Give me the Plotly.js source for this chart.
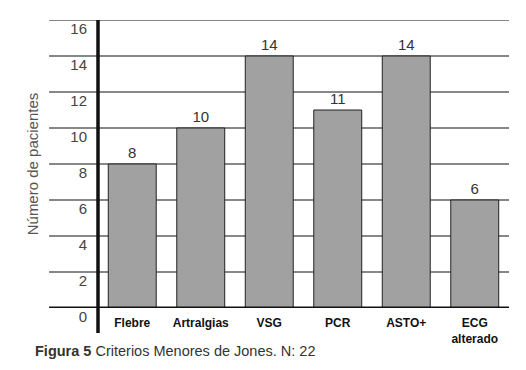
<!DOCTYPE html>
<html><head><meta charset="utf-8">
<script src="https://cdn.plot.ly/plotly-3.0.1.min.js"></script>
<style>html,body{margin:0;padding:0;background:#fff}#c{width:526px;height:370px}</style>
</head><body><div id="c"></div>
<script>
var categories = ['Flebre', 'Artralgias', 'VSG', 'PCR', 'ASTO+', 'ECG<br>alterado'];
var values = [8, 10, 14, 11, 14, 6];
var tickVals = [0, 2, 4, 6, 8, 10, 12, 14, 16];
var tickText = ['0', '2', '4', '6', '8', '10', '12', '14', '16'];
var yTitle = 'Número de pacientes';
var caption = '<b>Figura 5</b> Criterios Menores de Jones. N: 22';

var FONT = 'Liberation Sans, Arial, sans-serif';
var shapes = tickVals.filter(function(v){return v>0;}).map(function(v){
  return {type:'line', xref:'paper', yref:'y', x0:-0.119, x1:1.0, y0:v, y1:v,
          line:{color:'#111', width:1.2}, layer:'below'};
});
shapes.push({type:'line', xref:'paper', yref:'y', x0:-0.119, x1:1.0, y0:0, y1:0, line:{color:'#111', width:3}, layer:'above'});
shapes.push({type:'line', xref:'paper', yref:'paper', x0:0, x1:0, y0:-0.087, y1:1, line:{color:'#111', width:3.5}, layer:'above'});

var trace = {
  type:'bar', x:categories, y:values, width:0.7,
  marker:{color:'#a1a1a1', line:{color:'#222', width:1}},
  text: values.map(String), textposition:'outside', cliponaxis:false,
  textfont:{family:FONT, size:15, color:'#333'}, hoverinfo:'none'
};

var layout = {
  width:526, height:370,
  margin:{l:98, r:17, t:20, b:62},
  paper_bgcolor:'#fff', plot_bgcolor:'rgba(0,0,0,0)',
  showlegend:false, bargap:0.3,
  font:{family:FONT, color:'#333'},
  xaxis:{showgrid:false, zeroline:false, showline:false, ticks:'',
         tickfont:{family:FONT, size:12, color:'#111', weight:'bold'}, ticklabelstandoff:6},
  yaxis:{range:[0,16], tickvals:tickVals, ticktext:tickText, showgrid:false, zeroline:false,
         showline:false, ticks:'', ticklabelshift:9, ticklabelstandoff:10,
         tickfont:{family:FONT, size:15, color:'#444'},
         title:{text:yTitle, font:{family:FONT, size:15, color:'#555'}, standoff:28}},
  shapes:shapes,
  annotations:[{xref:'paper', yref:'paper', x:-0.158, y:-0.15, xanchor:'left', yanchor:'middle',
                text:caption, showarrow:false, font:{family:FONT, size:14.5, color:'#333'}}]
};
Plotly.newPlot('c', [trace], layout, {staticPlot:true, displayModeBar:false});
</script></body></html>
